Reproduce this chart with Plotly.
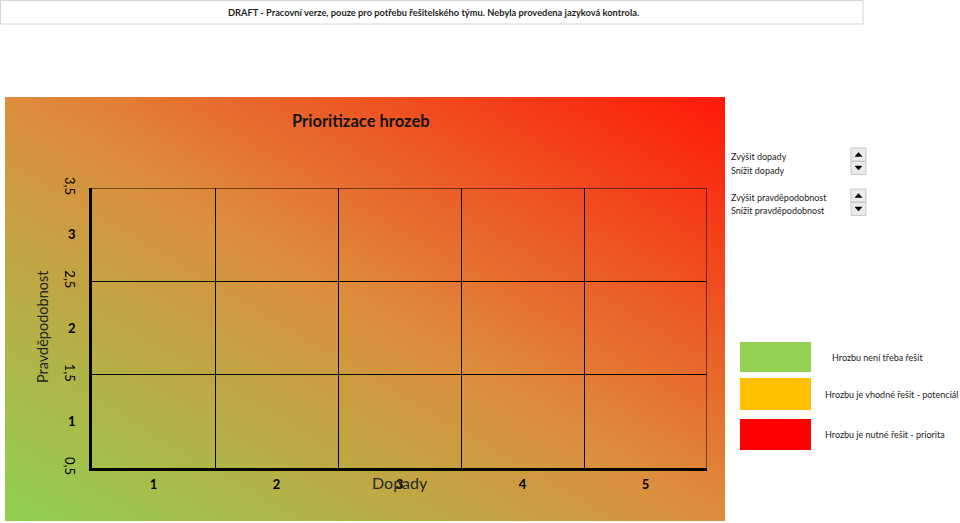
import base64
import plotly.graph_objects as go

# ---- data ----
impact_vals = [1, 2, 3, 4, 5]
impact_labels = ["1", "2", "3", "4", "5"]
impact_bounds = [1.5, 2.5, 3.5, 4.5, 5.5]
prob_vals = [1, 2, 3]
prob_labels = ["1", "2", "3"]
prob_bounds = [0.5, 1.5, 2.5, 3.5]
prob_bound_labels = ["0,5", "1,5", "2,5", "3,5"]
legend_labels = ["Hrozbu není třeba řešit", "Hrozbu je vhodné řešit - potenciál", "Hrozbu je nutné řešit - priorita"]
legend_colors = ["#92D050", "#FFC000", "#FF0000"]
control_labels = ["Zvýšit dopady", "Snížit dopady", "Zvýšit pravděpodobnost", "Snížit pravděpodobnost"]
threats_x = []
threats_y = []

W, H = 960, 523
FONT = "Lato, Liberation Sans, sans-serif"


def px(x):
    return x / W


def py(y):
    return 1 - y / H


svg = (
    '<svg xmlns="http://www.w3.org/2000/svg" width="720" height="424" viewBox="0 0 720 424" preserveAspectRatio="none">'
    '<defs><linearGradient id="g" x1="0" y1="1" x2="1" y2="0">'
    '<stop offset="0" stop-color="#8FD150"/>'
    '<stop offset="0.5" stop-color="#DD8E3C"/>'
    '<stop offset="1" stop-color="#FF1808"/>'
    '</linearGradient></defs>'
    '<rect width="720" height="424" fill="url(#g)"/></svg>'
)
svg_uri = "data:image/svg+xml;base64," + base64.b64encode(svg.encode()).decode()

fig = go.Figure()
fig.add_trace(go.Scatter(x=threats_x, y=threats_y, mode="markers", showlegend=False,
                         marker=dict(color="black", size=10)))
fig.add_trace(go.Scatter(x=threats_x, y=threats_y, mode="markers", showlegend=False,
                         xaxis="x", yaxis="y2", hoverinfo="skip"))

fig.update_layout(
    width=W, height=H,
    margin=dict(l=0, r=0, t=0, b=0, pad=0, autoexpand=False),
    paper_bgcolor="white",
    plot_bgcolor="rgba(0,0,0,0)",
    showlegend=False,
    xaxis=dict(
        domain=[px(92), px(707)], range=[0.5, 5.5],
        tickvals=impact_vals, ticktext=["<b>%s</b>" % t for t in impact_labels],
        tickfont=dict(family=FONT, size=13, color="black"),
        ticks="", ticklabelstandoff=3,
        showgrid=False, zeroline=False,
        showline=True, linecolor="black", linewidth=2.5,
        minor=dict(tickvals=impact_bounds, showgrid=True, gridcolor="black", gridwidth=1, ticks=""),
        fixedrange=True, automargin=False,
    ),
    yaxis=dict(
        domain=[py(468), py(188)], range=[0.5, 3.5],
        tickvals=prob_vals, ticktext=["<b>%s</b>" % t for t in prob_labels],
        tickfont=dict(family=FONT, size=13, color="black"),
        ticks="", ticklabelstandoff=11,
        showgrid=False, zeroline=False,
        showline=True, linecolor="black", linewidth=2.5,
        minor=dict(tickvals=prob_bounds, showgrid=True, gridcolor="black", gridwidth=1, ticks=""),
        fixedrange=True, automargin=False,
    ),
    yaxis2=dict(
        overlaying="y", anchor="x", side="left", range=[0.5, 3.5],
        tickvals=prob_bounds, ticktext=prob_bound_labels, tickangle=90,
        tickfont=dict(family=FONT, size=13, color="black"),
        ticks="", ticklabelstandoff=13,
        showgrid=False, zeroline=False, showline=False,
        fixedrange=True, automargin=False,
    ),
    images=[dict(source=svg_uri, xref="paper", yref="paper", x=px(5), y=py(97),
                 sizex=px(720), sizey=424 / H, sizing="stretch",
                 xanchor="left", yanchor="top", layer="below")],
)

shapes = []
annotations = []


def note(x, y, text, size, color="#222222", xanchor="center", xref="paper", **kw):
    annotations.append(dict(xref=xref, yref="paper", x=x, y=py(y), showarrow=False,
                            xanchor=xanchor, yanchor="middle", text=text,
                            font=dict(family=FONT, size=size, color=color), **kw))


# plot-area top and right borders (gridlines at the range ends)
shapes.append(dict(type="line", xref="x", yref="y", x0=0.5, x1=5.5, y0=3.5, y1=3.5,
                   line=dict(color="black", width=1)))
shapes.append(dict(type="line", xref="x", yref="y", x0=5.5, x1=5.5, y0=0.5, y1=3.5,
                   line=dict(color="black", width=1)))

# draft header box
shapes.append(dict(type="rect", xref="paper", yref="paper", x0=px(0.5), x1=px(863), y0=py(24), y1=py(0.5),
                   line=dict(color="#D4D4D4", width=1), fillcolor="white"))
note(px(433), 12, "<b>DRAFT - Pracovní verze, pouze pro potřebu řešitelského týmu. Nebyla provedena jazyková kontrola.</b>",
     9.3, color="#1F1F1F")

# chart title and axis titles
note(px(361), 121, "<b>Prioritizace hrozeb</b>", 16.5, color="#141414")
note(px(42), 327, "Pravděpodobnost", 14.5, color="#262626", textangle=-90)
note(3, 482, "Dopady", 16, color="#262626", xref="x")

# controls
ctrl_y = [156, 170, 197, 211]
for lab, yy in zip(control_labels, ctrl_y):
    note(px(729), yy, lab, 9, xanchor="left")
for top in (148, 189):
    for i, up in enumerate((True, False)):
        y0 = top + i * 13.5
        y1 = y0 + 13
        shapes.append(dict(type="rect", xref="paper", yref="paper", x0=px(851), x1=px(866),
                           y0=py(y1), y1=py(y0), line=dict(color="#C8C8C8", width=1), fillcolor="#EBEBEB"))
        cy = (y0 + y1) / 2
        if up:
            path = "M %f %f L %f %f L %f %f Z" % (px(855), py(cy + 2), px(862), py(cy + 2), px(858.5), py(cy - 2))
        else:
            path = "M %f %f L %f %f L %f %f Z" % (px(855), py(cy - 2), px(862), py(cy - 2), px(858.5), py(cy + 2))
        shapes.append(dict(type="path", xref="paper", yref="paper", path=path,
                           fillcolor="black", line=dict(color="black", width=0.5)))

# legend boxes
box_rows = [(342, 372, 357, 830), (378, 410, 394, 823), (419, 450, 434, 823)]
for (y0, y1, ty, tx), lab, col in zip(box_rows, legend_labels, legend_colors):
    shapes.append(dict(type="rect", xref="paper", yref="paper", x0=px(740), x1=px(811), y0=py(y1), y1=py(y0),
                       line=dict(width=0), fillcolor=col))
    note(px(tx), ty, lab, 9, xanchor="left")

fig.update_layout(shapes=shapes, annotations=annotations)
fig.write_html("out.html")
